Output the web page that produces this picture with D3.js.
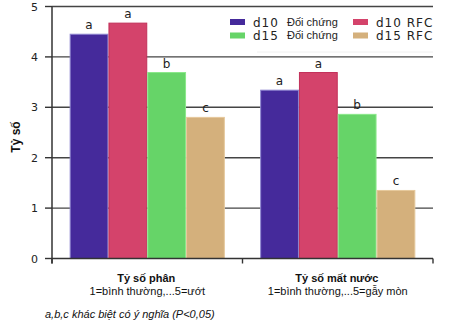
<!DOCTYPE html>
<html>
<head>
<meta charset="utf-8">
<script src="https://cdn.jsdelivr.net/npm/d3@7"></script>
<style>
  html, body { margin: 0; padding: 0; background: #fff; }
  svg { display: block; }
  .tick-label { font-family: "DejaVu Sans", sans-serif; font-size: 11px; fill: #222; }
  .sig { font-family: "DejaVu Sans", sans-serif; font-size: 12px; fill: #222; }
  .cat-title { font-family: "Liberation Sans", Arial, sans-serif; font-size: 11px; font-weight: bold; fill: #111; }
  .cat-sub { font-family: "Liberation Sans", Arial, sans-serif; font-size: 11px; fill: #111; }
  .note { font-family: "Liberation Sans", Arial, sans-serif; font-size: 11px; font-style: italic; fill: #111; }
  .y-title { font-family: "Liberation Sans", Arial, sans-serif; font-size: 12px; font-weight: bold; fill: #111; }
  .leg-code { font-family: "DejaVu Sans", sans-serif; font-size: 12px; letter-spacing: 1px; fill: #222; }
  .leg-small { font-family: "Liberation Sans Narrow", "Liberation Sans", Arial, sans-serif; font-stretch: condensed; font-size: 11px; fill: #222; }
</style>
</head>
<body>
<div id="chart"></div>
<script>
// Tỷ số phân / mất nước theo nghiệm thức
const categories = ['Tỷ số phân', 'Tỷ số mất nước'];
const subtitles = ['1=bình thường,...5=ướt', '1=bình thường,...5=gẫy mòn'];
const series = ['d10 ĐC', 'd10 RFC', 'd15 ĐC', 'd15 RFC'];
const values = [
  [4.45, 4.67, 3.69, 2.80],
  [3.34, 3.69, 2.86, 1.35]
];
const letters = [
  ['a', 'a', 'b', 'c'],
  ['a', 'a', 'b', 'c']
];
const yTicks = [0, 1, 2, 3, 4, 5];

const colors = {
  'd10 ĐC': '#452a9b',
  'd10 RFC': '#d4436b',
  'd15 ĐC': '#66d468',
  'd15 RFC': '#d4b07c'
};
const strokes = {
  'd10 ĐC': '#8f86d0',
  'd10 RFC': '#c2305a',
  'd15 ĐC': '#8ae88a',
  'd15 RFC': '#e6c89c'
};

const width = 451, height = 323;
const plotLeft = 52, plotRight = 433, plotTop = 6.5, plotBottom = 258.5;

const svg = d3.select('#chart').append('svg')
  .attr('width', width)
  .attr('height', height);

const x0 = d3.scaleBand().domain(categories).range([plotLeft, plotRight]);
const x1 = d3.scaleBand().domain(series).range([0, x0.bandwidth()])
  .paddingInner(0).paddingOuter(0.455);
const y = d3.scaleLinear().domain([0, 5]).range([plotBottom, plotTop]);

// gridlines
svg.append('g')
  .selectAll('line')
  .data(yTicks.filter(t => t > 0))
  .join('line')
  .attr('x1', plotLeft).attr('x2', plotRight)
  .attr('y1', d => y(d)).attr('y2', d => y(d))
  .attr('stroke', '#444')
  .attr('stroke-width', 1.4);

// bars
const rows = (d, i) => series.map((s, j) => ({ s, v: values[i][j], l: letters[i][j] }));

const group = svg.append('g')
  .selectAll('g')
  .data(categories)
  .join('g')
  .attr('transform', d => `translate(${x0(d)},0)`);

group.selectAll('rect')
  .data(rows)
  .join('rect')
  .attr('x', d => x1(d.s) + 0.5)
  .attr('y', d => y(d.v))
  .attr('width', x1.bandwidth() - 1)
  .attr('height', d => y(0) - y(d.v))
  .attr('fill', d => colors[d.s])
  .attr('stroke', d => strokes[d.s])
  .attr('stroke-width', 1);

group.selectAll('text')
  .data(rows)
  .join('text')
  .attr('class', 'sig')
  .attr('x', d => x1(d.s) + x1.bandwidth() / 2)
  .attr('y', d => y(d.v) - 5)
  .attr('text-anchor', 'middle')
  .text(d => d.l);

// y axis
const yAxis = svg.append('g');
yAxis.append('line')
  .attr('x1', plotLeft).attr('x2', plotLeft)
  .attr('y1', plotTop).attr('y2', plotBottom + 5)
  .attr('stroke', '#333').attr('stroke-width', 1.5);
yAxis.selectAll('.yt')
  .data(yTicks)
  .join('line')
  .attr('class', 'yt')
  .attr('x1', plotLeft - 7).attr('x2', plotLeft)
  .attr('y1', d => y(d)).attr('y2', d => y(d))
  .attr('stroke', '#333').attr('stroke-width', 1.4);
yAxis.selectAll('text')
  .data(yTicks)
  .join('text')
  .attr('class', 'tick-label')
  .attr('x', plotLeft - 14)
  .attr('y', d => y(d) + 4)
  .attr('text-anchor', 'end')
  .text(d => d);

svg.append('text')
  .attr('class', 'y-title')
  .attr('transform', `translate(20, 137) rotate(-90)`)
  .attr('text-anchor', 'middle')
  .text('Tỷ số');

// x axis
const xAxis = svg.append('g');
xAxis.append('line')
  .attr('x1', plotLeft).attr('x2', plotRight)
  .attr('y1', plotBottom).attr('y2', plotBottom)
  .attr('stroke', '#333').attr('stroke-width', 1.5);
xAxis.selectAll('.xt')
  .data([plotLeft, ...categories.map(c => x0(c) + x0.bandwidth())])
  .join('line')
  .attr('class', 'xt')
  .attr('x1', d => d).attr('x2', d => d)
  .attr('y1', plotBottom).attr('y2', plotBottom + 5)
  .attr('stroke', '#333').attr('stroke-width', 1.4);

categories.forEach((c, i) => {
  const cx = x0(c) + x0.bandwidth() / 2 + 2;
  svg.append('text').attr('class', 'cat-title')
    .attr('x', cx - 3).attr('y', 282).attr('text-anchor', 'middle').text(c);
  svg.append('text').attr('class', 'cat-sub')
    .attr('x', cx - 2).attr('y', 295).attr('text-anchor', 'middle').text(subtitles[i]);
});

svg.append('text')
  .attr('class', 'note')
  .attr('x', 45).attr('y', 318)
  .text('a,b,c khác biệt có ý nghĩa (P<0,05)');

// legend
const legendItems = [
  { s: 'd10 ĐC', code: 'd10', small: 'Đối chứng', x: 230, y: 22 },
  { s: 'd10 RFC', code: 'd10 RFC', small: '', x: 353, y: 22 },
  { s: 'd15 ĐC', code: 'd15', small: 'Đối chứng', x: 230, y: 35.5 },
  { s: 'd15 RFC', code: 'd15 RFC', small: '', x: 353, y: 35.5 }
];
const legend = svg.append('g');
legend.append('line')
  .attr('x1', 257).attr('x2', plotRight)
  .attr('y1', 52).attr('y2', 52)
  .attr('stroke', '#f0f0f0');
const li = legend.selectAll('g')
  .data(legendItems)
  .join('g')
  .attr('transform', d => `translate(${d.x},${d.y})`);
li.append('rect')
  .attr('x', 0).attr('y', -3)
  .attr('width', 15).attr('height', 6)
  .attr('fill', d => colors[d.s]);
li.append('text')
  .attr('class', 'leg-code')
  .attr('x', 23)
  .attr('y', 4.5)
  .text(d => d.code);
li.filter(d => d.small)
  .append('text')
  .attr('class', 'leg-small')
  .attr('x', 57)
  .attr('y', 3.5)
  .text(d => d.small);
</script>
</body>
</html>
